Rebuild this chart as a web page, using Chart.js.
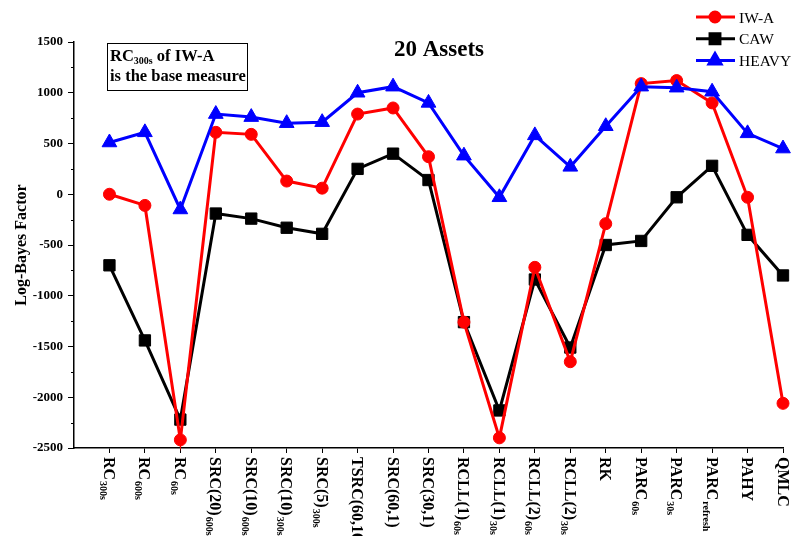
<!DOCTYPE html>
<html>
<head>
<meta charset="utf-8">
<script src="https://cdn.jsdelivr.net/npm/chart.js@4"></script>
<style>
  html, body { margin: 0; padding: 0; background: #fff; }
  #wrap { width: 794px; height: 536px; position: relative; }
</style>
</head>
<body>
<div id="wrap"><canvas id="bayesChart"></canvas></div>
<script>
// category labels: main text + subscript
const LABEL_MAIN = ['RC', 'RC', 'RC', 'SRC(20)', 'SRC(10)', 'SRC(10)', 'SRC(5)', 'TSRC(60,10)', 'SRC(60,1)', 'SRC(30,1)',
  'RCLL(1)', 'RCLL(1)', 'RCLL(2)', 'RCLL(2)', 'RK', 'PARC', 'PARC', 'PARC', 'PAHY', 'QMLC'];
const LABEL_SUB = ['300s', '600s', '60s', '600s', '600s', '300s', '300s', '', '', '',
  '60s', '30s', '60s', '30s', '', '60s', '30s', 'refresh', '', ''];

const IWA = [0, -110, -2420, 610, 590, 130, 60, 790, 850, 370,
  -1260, -2400, -720, -1650, -290, 1090, 1120, 900, -30, -2060];
const CAW = [-700, -1440, -2220, -190, -240, -330, -390, 250, 400, 140,
  -1260, -2130, -840, -1510, -500, -460, -30, 280, -400, -800];
const HEAVY = [510, 610, -150, 790, 760, 700, 710, 1000, 1060, 900,
  380, -30, 580, 270, 670, 1060, 1050, 1010, 600, 450];

const Y_MIN = -2500;
const Y_MAX = 1500;
const Y_STEP = 250;     // minor step
const Y_LABEL_STEP = 500;

const SERIES = [
  { name: 'IW-A', values: IWA, color: '#ff0000', style: 'circle', radius: 6, legendRadius: 5, order: 1 },
  { name: 'CAW', values: CAW, color: '#000000', style: 'rect', radius: 8, legendRadius: 7, order: 2 },
  { name: 'HEAVY', values: HEAVY, color: '#0000ff', style: 'triangle', radius: 8.5, legendRadius: 7, order: 0 }
];

const SERIF = "'Liberation Serif', 'Times New Roman', serif";

const decorations = {
  id: 'decorations',
  afterDraw(chart) {
    const ctx = chart.ctx;
    const xs = chart.scales.x;
    const ys = chart.scales.y;
    const area = chart.chartArea;
    ctx.save();
    ctx.fillStyle = '#000';
    ctx.strokeStyle = '#000';

    // short minor ticks on the y axis
    ctx.lineWidth = 1;
    ys.ticks.forEach(t => {
      if (t.value % Y_LABEL_STEP !== 0) {
        const py = Math.round(ys.getPixelForValue(t.value)) + 0.5;
        ctx.beginPath();
        ctx.moveTo(area.left - 3, py);
        ctx.lineTo(area.left, py);
        ctx.stroke();
      }
    });

    // rotated category labels with subscripts
    LABEL_MAIN.forEach((main, i) => {
      const px = xs.getPixelForValue(i + 1);
      ctx.save();
      ctx.translate(px, area.bottom + 9);
      ctx.rotate(Math.PI / 2);
      ctx.textAlign = 'left';
      ctx.textBaseline = 'alphabetic';
      ctx.font = `bold 16px ${SERIF}`;
      ctx.fillText(main, 0, 5.5);
      const w = ctx.measureText(main).width;
      if (LABEL_SUB[i]) {
        ctx.font = `bold 10px ${SERIF}`;
        ctx.fillText(LABEL_SUB[i], w + 1, 9.5);
      }
      ctx.restore();
    });

    // title
    ctx.textAlign = 'center';
    ctx.textBaseline = 'alphabetic';
    ctx.font = `bold 23px ${SERIF}`;
    ctx.fillText('20 Assets', 439, 56);

    // note box
    ctx.lineWidth = 1;
    ctx.strokeRect(107.5, 43.5, 140, 47);
    ctx.textAlign = 'left';
    ctx.font = `bold 16.5px ${SERIF}`;
    ctx.fillText('RC', 110, 61);
    let cx = 110 + ctx.measureText('RC').width;
    ctx.font = `bold 10px ${SERIF}`;
    ctx.fillText('300s', cx, 64);
    cx += ctx.measureText('300s').width;
    ctx.font = `bold 16.5px ${SERIF}`;
    ctx.fillText(' of IW-A', cx, 61);
    ctx.fillText('is the base measure', 110, 81);

    // legend
    SERIES.forEach((s, i) => {
      const ly = 17 + i * 21.7;
      ctx.strokeStyle = s.color;
      ctx.fillStyle = s.color;
      ctx.lineWidth = 3;
      ctx.beginPath();
      ctx.moveTo(696, ly);
      ctx.lineTo(735, ly);
      ctx.stroke();
      Chart.helpers.drawPoint(ctx, { pointStyle: s.style, radius: s.legendRadius, rotation: 0, borderWidth: 1 }, 715, ly);
      ctx.fillStyle = '#000';
      ctx.font = `15.5px ${SERIF}`;
      ctx.fillText(s.name, 739, ly + 5.5);
    });
    ctx.restore();
  }
};

const datasets = SERIES.map(s => ({
  label: s.name,
  data: s.values.map((v, i) => ({ x: i + 1, y: v })),
  borderColor: s.color,
  backgroundColor: s.color,
  borderWidth: 3,
  tension: 0,
  pointStyle: s.style,
  pointRadius: s.radius,
  pointBackgroundColor: s.color,
  pointBorderColor: s.color,
  pointBorderWidth: 1,
  order: s.order,
  clip: false
}));

new Chart(document.getElementById('bayesChart'), {
  type: 'line',
  data: { datasets },
  plugins: [decorations],
  options: {
    responsive: true,
    maintainAspectRatio: false,
    animation: false,
    events: [],
    layout: { padding: { left: 0, right: 11, top: 42, bottom: 0 } },
    plugins: {
      legend: { display: false },
      tooltip: { enabled: false }
    },
    scales: {
      x: {
        type: 'linear',
        min: 0,
        max: LABEL_MAIN.length,
        afterBuildTicks: s => { s.ticks = LABEL_MAIN.map((_, i) => ({ value: i + 1 })); },
        ticks: { display: false },
        grid: { drawOnChartArea: false, drawTicks: true, tickLength: 5, color: '#000' },
        border: { color: '#000', width: 1.5 },
        afterFit: s => { s.height = 88; }
      },
      y: {
        min: Y_MIN,
        max: Y_MAX,
        ticks: {
          stepSize: Y_STEP,
          padding: 5,
          color: '#000',
          font: { family: SERIF, weight: 'bold', size: 13 },
          callback: v => (v % Y_LABEL_STEP === 0 ? v : '')
        },
        grid: {
          drawOnChartArea: false,
          tickLength: 6,
          color: '#000',
          tickColor: c => (c.tick && c.tick.value % Y_LABEL_STEP === 0 ? '#000' : 'rgba(0,0,0,0)')
        },
        border: { color: '#000', width: 1.5 },
        title: {
          display: true,
          text: 'Log-Bayes Factor',
          color: '#000',
          font: { family: SERIF, weight: 'bold', size: 16 },
          padding: { top: 12, bottom: 0 }
        },
        afterFit: s => { s.width = 74; }
      }
    }
  }
});
</script>
</body>
</html>
